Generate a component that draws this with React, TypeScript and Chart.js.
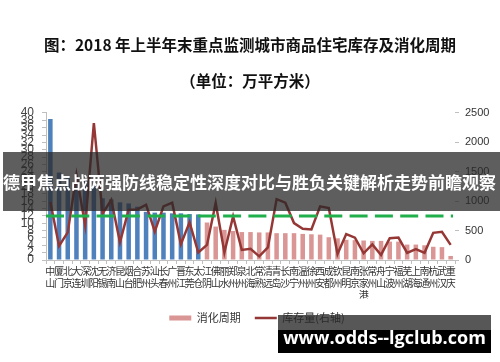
import React, { useEffect, useRef } from 'react';
import { Chart, registerables } from 'chart.js';

Chart.register(...registerables);

const TITLE = '图：2018 年上半年末重点监测城市商品住宅库存及消化周期';
const SUBTITLE = '（单位：万平方米）';
const BANNER = '德甲焦点战两强防线稳定性深度对比与胜负关键解析走势前瞻观察';
const WATERMARK = 'www.odds--lgclub.com';

const cities = [
  '中山', '厦门', '北京', '大连', '深圳', '沈阳', '无锡', '济南', '昆山', '烟台',
  '合肥', '苏州', '汕头', '长春', '广州', '晋江', '东莞', '太仓', '江阴', '佛山',
  '丽水', '郑州', '泉州', '北海', '常熟', '清远', '青岛', '长沙', '南宁', '温州',
  '徐州', '西安', '成都', '钦州', '昆明', '南京', '张家港', '常州', '舟山', '宁波',
  '福州', '芜湖', '上海', '南通', '杭州', '武汉', '重庆',
];

// 消化周期 (months, left axis)
const cycleMonths = [
  38.4, 23.8, 22.5, 22.0, 21.5, 20.5, 16.8, 16.5, 15.7, 15.4,
  14.5, 13.1, 12.9, 12.9, 12.7, 12.7, 12.5, 12.4, 10.2, 9.1,
  8.2, 7.9, 7.6, 7.6, 7.5, 7.5, 7.3, 7.3, 7.3, 7.1,
  7.0, 6.9, 6.2, 5.9, 5.5, 5.4, 5.3, 5.2, 5.2, 5.0,
  5.0, 4.2, 4.2, 4.0, 3.6, 3.5, 1.1,
];

// 库存量 (万平方米, right axis)
const inventory = [
  985, 240, 470, 1450, 590, 2330, 790, 1020, 300, 856,
  860, 940, 485, 913, 975, 270, 640, 128, 257, 970,
  128, 740, 171, 190, 62, 215, 1035, 975, 628, 530,
  520, 913, 885, 100, 442, 380, 114, 265, 86, 371,
  382, 120, 185, 122, 462, 480, 257,
];

const highlightCount = 18; // bars drawn in blue
const thresholdMonths = 12;

const leftTicksMax = 40;
const leftStep = 2;
const rightTicksMax = 2500;
const rightStep = 500;

const BLUE = '#4f81bd';
const PINK = '#d99694';
const RED = '#953735';
const GREEN = '#1fb04c';
const CJK = '"Noto Sans CJK SC", "Noto Sans", sans-serif';

const thresholdPlugin = {
  id: 'thresholdLine',
  afterDatasetsDraw(chart: any) {
    const { ctx, chartArea, scales } = chart;
    const y = scales.y.getPixelForValue(thresholdMonths);
    ctx.save();
    ctx.strokeStyle = GREEN;
    ctx.lineWidth = 3;
    ctx.setLineDash([18, 7.3]);
    ctx.beginPath();
    ctx.moveTo(chartArea.left, y);
    ctx.lineTo(chartArea.right - 2, y);
    ctx.stroke();
    ctx.restore();
  },
};

const legendShiftPlugin = {
  id: 'legendShift',
  afterLayout(chart: any) {
    if (chart.legend) {
      chart.legend.left += 14;
    }
  },
};

export default function App() {
  const ref = useRef<HTMLCanvasElement | null>(null);

  useEffect(() => {
    if (!ref.current) return;
    const chart = new Chart(ref.current, {
      type: 'bar',
      data: {
        labels: cities.map((c) => c.split('')),
        datasets: [
          {
            type: 'bar',
            label: '消化周期',
            data: cycleMonths,
            backgroundColor: cycleMonths.map((_, i) => (i < highlightCount ? BLUE : PINK)),
            barPercentage: 0.52,
            categoryPercentage: 1,
            yAxisID: 'y',
            order: 2,
          },
          {
            type: 'line',
            label: '库存量(右轴)',
            data: inventory,
            borderColor: RED,
            backgroundColor: RED,
            borderWidth: 2.5,
            pointRadius: 0,
            tension: 0,
            yAxisID: 'y1',
            order: 1,
          },
        ] as any,
      },
      options: {
        responsive: false,
        animation: false,
        devicePixelRatio: 1,
        layout: { padding: { left: 0, right: 0, top: 0, bottom: 28.5 } },
        plugins: {
          title: {
            display: true,
            text: TITLE,
            color: '#111',
            font: { size: 15.5, weight: 'bold', family: CJK, lineHeight: 1.2 },
            padding: { top: 36, bottom: 0 },
          },
          subtitle: {
            display: true,
            text: SUBTITLE,
            color: '#111',
            font: { size: 15.5, weight: 'bold', family: CJK, lineHeight: 1.2 },
            padding: { top: 17.1, bottom: 22.7 },
          },
          legend: {
            position: 'bottom',
            labels: {
              usePointStyle: true,
              pointStyleWidth: 22,
              boxHeight: 5,
              padding: 14,
              color: '#333',
              font: { size: 11, family: CJK },
              generateLabels: () => [
                {
                  text: '消化周期',
                  fillStyle: PINK,
                  strokeStyle: PINK,
                  lineWidth: 0,
                  pointStyle: 'rect',
                  datasetIndex: 0,
                  hidden: false,
                  fontColor: '#333',
                },
                {
                  text: '库存量(右轴)',
                  fillStyle: RED,
                  strokeStyle: RED,
                  lineWidth: 2.5,
                  pointStyle: 'line',
                  datasetIndex: 1,
                  hidden: false,
                  fontColor: '#333',
                },
              ],
            },
          },
          tooltip: { enabled: false },
        },
        scales: {
          x: {
            type: 'category',
            offset: true,
            grid: { offset: true, drawOnChartArea: false, drawTicks: true, tickLength: 4, color: '#bfbfbf' },
            border: { color: '#bfbfbf' },
            ticks: {
              autoSkip: false,
              maxRotation: 0,
              minRotation: 0,
              padding: 1,
              color: '#333',
              font: { size: 10, family: CJK, lineHeight: 1.2 },
            },
            afterFit: (s: any) => {
              s.height = 38.5;
            },
          },
          y: {
            position: 'left',
            min: 0,
            max: leftTicksMax,
            grid: { drawOnChartArea: false, drawTicks: true, tickLength: 4, color: '#bfbfbf' },
            border: { color: '#bfbfbf' },
            ticks: {
              stepSize: leftStep,
              autoSkip: false,
              padding: 8,
              color: '#444',
              font: { size: 12, family: '"Liberation Sans", sans-serif' },
            },
            afterFit: (s: any) => {
              s.width = 46;
            },
          },
          y1: {
            position: 'right',
            min: 0,
            max: rightTicksMax,
            grid: { drawOnChartArea: false, drawTicks: true, tickLength: 4, color: '#bfbfbf' },
            border: { display: false },
            ticks: {
              stepSize: rightStep,
              padding: 6,
              color: '#333',
              font: { size: 11, family: '"Liberation Sans", sans-serif' },
              callback: (v: any) => String(v),
            },
            afterFit: (s: any) => {
              s.width = 45;
            },
          },
        },
      } as any,
      plugins: [thresholdPlugin, legendShiftPlugin],
    });
    return () => chart.destroy();
  }, []);

  return (
    <div
      style={{
        position: 'fixed',
        left: 0,
        top: 0,
        width: 500,
        height: 362,
        background: '#fff',
        overflow: 'hidden',
      }}
    >
      <canvas ref={ref} width={500} height={362} style={{ display: 'block', width: 500, height: 362 }} />
      <div
        style={{
          position: 'absolute',
          left: 3,
          top: 152,
          width: 497,
          height: 59,
          background: 'rgba(40,40,40,0.75)',
          color: '#fff',
          fontFamily: CJK,
          fontWeight: 'bold',
          fontSize: 17,
          lineHeight: '59px',
          whiteSpace: 'nowrap',
          overflow: 'hidden',
        }}
      >
        {BANNER}
      </div>
      <div
        style={{
          position: 'absolute',
          left: 278,
          top: 315,
          width: 213,
          height: 15,
          background: 'rgba(40,40,40,0.78)',
        }}
      />
      <div
        style={{
          position: 'absolute',
          left: 278,
          top: 330,
          width: 213,
          height: 23,
          background: '#000',
        }}
      />
      <div
        style={{
          position: 'absolute',
          left: 278,
          top: 322,
          width: 213,
          height: 30,
          color: '#fff',
          fontFamily: '"Open Sans", "DejaVu Sans", sans-serif',
          fontWeight: 'bold',
          fontSize: 18,
          lineHeight: '30px',
          textAlign: 'center',
          whiteSpace: 'nowrap',
        }}
      >
        {WATERMARK}
      </div>
    </div>
  );
}
